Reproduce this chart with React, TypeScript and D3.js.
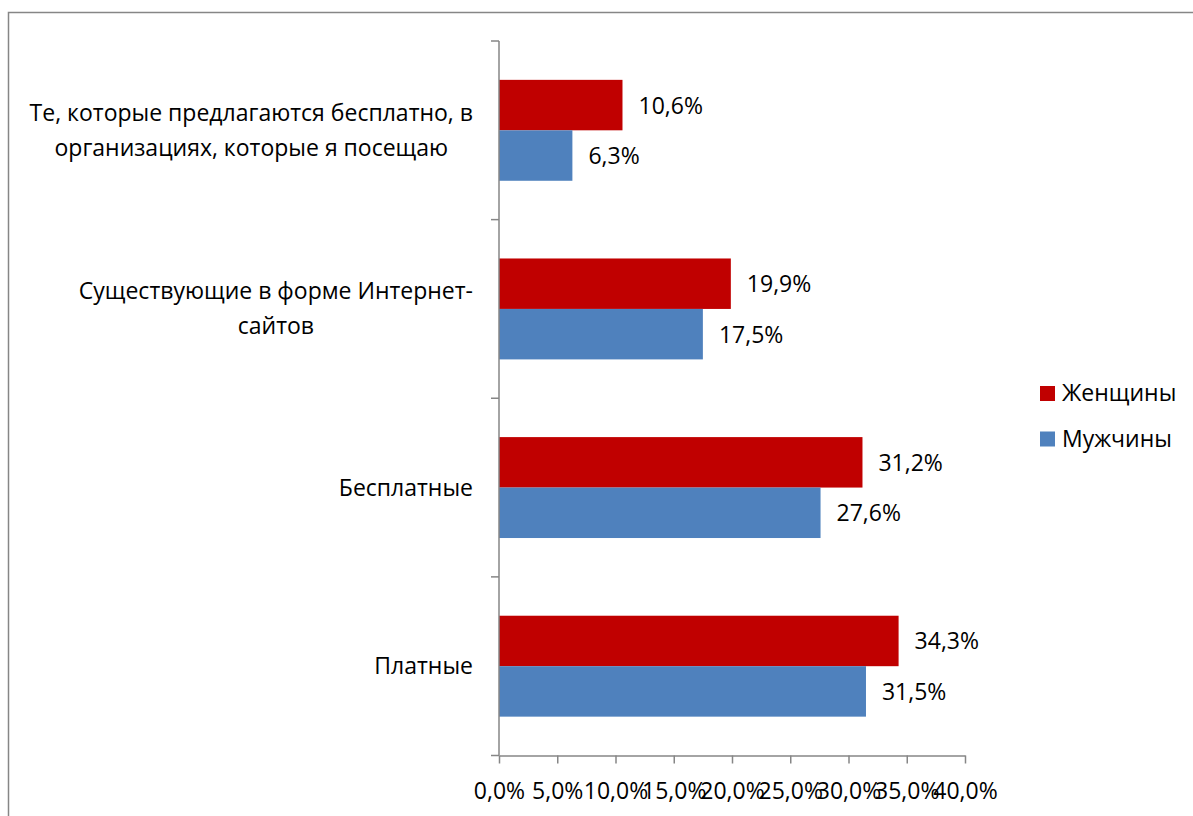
import { useEffect, useRef } from "react";
import * as d3 from "d3";

const categories = [
  ["Те, которые предлагаются бесплатно, в", "организациях, которые я посещаю"],
  ["Существующие в форме Интернет-", "сайтов"],
  ["Бесплатные"],
  ["Платные"],
];
const seriesNames = ["Женщины", "Мужчины"];
const women = [10.6, 19.9, 31.2, 34.3];
const men = [6.3, 17.5, 27.6, 31.5];
const ticks = [0, 5, 10, 15, 20, 25, 30, 35, 40];

const COLORS = ["#C00000", "#4F81BD"];
const AXIS = "#868686";
const FONT = "'Open Sans', 'Noto Sans', sans-serif";
const FS = 23;
const W = 1193;
const H = 816;

const fmt = (v: number) => v.toFixed(1).replace(".", ",") + "%";

export default function App() {
  const svgRef = useRef<SVGSVGElement>(null);

  useEffect(() => {
    if (!svgRef.current) return;
    const svg = d3.select(svgRef.current);
    svg.selectAll("*").remove();

    // outer frame (runs off the right and bottom edge)
    svg.append("rect")
      .attr("x", 8.5).attr("y", 12.5)
      .attr("width", W + 20).attr("height", H + 20)
      .attr("fill", "none").attr("stroke", AXIS).attr("stroke-width", 1.5);

    const plotLeft = 499, plotRight = 965, plotTop = 41, plotBottom = 755.5;
    const x = d3.scaleLinear().domain([0, 40]).range([plotLeft, plotRight]);
    const y = d3.scaleBand<number>()
      .domain(d3.range(categories.length))
      .range([plotTop, plotBottom])
      .paddingInner(0.435).paddingOuter(0.2175);
    const sub = d3.scaleBand<number>().domain([0, 1]).range([0, y.bandwidth()]);

    const rows = categories.map((c, i) => ({ i, lines: c, vals: [women[i], men[i]] }));

    // bars + value labels
    rows.forEach((r) => {
      r.vals.forEach((v, s) => {
        const y0 = (y(r.i) ?? 0) + (sub(s) ?? 0);
        svg.append("rect")
          .attr("x", x(0)).attr("y", y0)
          .attr("width", x(v) - x(0)).attr("height", sub.bandwidth())
          .attr("fill", COLORS[s]);
        svg.append("text")
          .attr("x", x(v) + 16).attr("y", y0 + sub.bandwidth() / 2 + 8.5)
          .attr("font-family", FONT).attr("font-size", FS)
          .attr("fill", "#000")
          .text(fmt(v));
      });
    });

    // y axis line and ticks
    svg.append("line")
      .attr("x1", plotLeft).attr("x2", plotLeft)
      .attr("y1", plotTop).attr("y2", plotBottom)
      .attr("stroke", AXIS).attr("stroke-width", 1.5);
    const step = (plotBottom - plotTop) / categories.length;
    d3.range(categories.length + 1).forEach((k) => {
      const yy = plotTop + k * step;
      svg.append("line")
        .attr("x1", plotLeft - 8).attr("x2", plotLeft)
        .attr("y1", yy).attr("y2", yy)
        .attr("stroke", AXIS).attr("stroke-width", 1.5);
    });

    // x axis
    const gx = svg.append("g").attr("transform", `translate(0,${plotBottom})`)
      .call(d3.axisBottom(x).tickValues(ticks).tickSize(8).tickSizeOuter(0)
        .tickFormat((d) => fmt(+d)));
    gx.select(".domain").attr("stroke", AXIS).attr("stroke-width", 1.5);
    gx.selectAll(".tick line").attr("stroke", AXIS).attr("stroke-width", 1.5);
    gx.selectAll(".tick text")
      .attr("font-family", FONT).attr("font-size", FS).attr("fill", "#000")
      .attr("dy", null).attr("y", 43.5);

    // category labels: centered block, right edge at 473
    const labelRight = 473;
    const lineH = 35;
    rows.forEach((r) => {
      const cy = (y(r.i) ?? 0) + y.bandwidth() / 2;
      const t = svg.append("text")
        .attr("font-family", FONT).attr("font-size", FS).attr("fill", "#000")
        .attr("text-anchor", "middle");
      const spans = r.lines.map((ln, k) =>
        t.append("tspan")
          .attr("y", cy + (k - (r.lines.length - 1) / 2) * lineH + 8)
          .text(ln)
      );
      const maxW = d3.max(spans, (s) => (s.node() as SVGTSpanElement).getComputedTextLength()) ?? 0;
      spans.forEach((s) => s.attr("x", labelRight - maxW / 2));
    });

    // legend
    seriesNames.forEach((name, s) => {
      const top = 386 + s * 45.5;
      svg.append("rect")
        .attr("x", 1040).attr("y", top)
        .attr("width", 15).attr("height", 15)
        .attr("fill", COLORS[s]);
      svg.append("text")
        .attr("x", 1062).attr("y", top + 15)
        .attr("font-family", FONT).attr("font-size", FS).attr("fill", "#000")
        .text(name);
    });
  }, []);

  return (
    <svg
      ref={svgRef}
      width={W}
      height={H}
      style={{ position: "fixed", left: 0, top: 0, background: "#fff" }}
    />
  );
}
